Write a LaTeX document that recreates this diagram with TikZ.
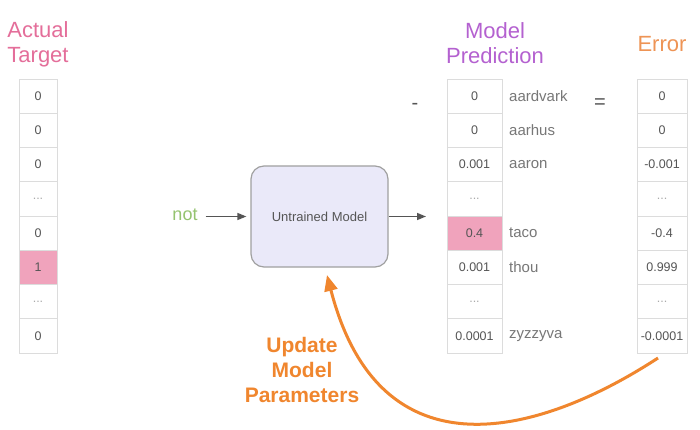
\documentclass[tikz,border=0pt]{standalone}
\usepackage{fontspec}
\setmainfont{Liberation Sans}
\usetikzlibrary{arrows.meta}
\definecolor{cellgray}{HTML}{DCDCDC}
\definecolor{celltext}{HTML}{555555}
\definecolor{dotgray}{HTML}{AAAAAA}
\definecolor{wordgray}{HTML}{777777}
\definecolor{pinktitle}{HTML}{E46E9A}
\definecolor{pinkfill}{HTML}{F0A3BC}
\definecolor{purpletitle}{HTML}{B461D0}
\definecolor{orangetitle}{HTML}{EE9455}
\definecolor{orangeline}{HTML}{F0862E}
\definecolor{greentext}{HTML}{95C36F}
\definecolor{boxfill}{HTML}{EAE9F9}
\definecolor{boxdraw}{HTML}{A0A0A0}
\definecolor{arrowgray}{HTML}{555555}
\newcommand{\celldots}{\textcolor{dotgray}{...}}
\begin{document}
\begin{tikzpicture}[x=1pt,y=-1pt,
  cell/.style={draw=cellgray, line width=0.8pt, minimum height=34.25pt, inner sep=0pt,
    font=\fontsize{12.5}{14}\selectfont, text=celltext},
  word/.style={anchor=west, inner sep=0pt, text=wordgray, font=\fontsize{15}{17}\selectfont},
  title/.style={align=center, anchor=base, font=\fontsize{22}{25}\selectfont},
  garrow/.style={draw=arrowgray, line width=1.4pt, -{Triangle[length=9pt,width=7pt]}},
  sign/.style={text=celltext, font=\fontsize{20}{24}\selectfont}]
\useasboundingbox[fill=white] (0,0) rectangle (700,430);

% titles (anchor = baseline of last line)
\node[title, text=pinktitle] (tA) at (38,63) {Actual\\Target};
\node[title, text=purpletitle] (tP) at (495,64) {Model\\Prediction};
\node[title, text=orangetitle] (tE) at (662,52) {Error};

% columns
\foreach \v/\f [count=\i] in {0/white,0/white,0/white,\celldots/white,0/white,1/pinkfill,\celldots/white,0/white}
  \node[cell, fill=\f, minimum width=38pt] (a\i) at (38,{79+34.25*(\i-0.5)}) {\v};
\foreach \v/\f [count=\i] in {0/white,0/white,0.001/white,\celldots/white,0.4/pinkfill,0.001/white,\celldots/white,0.0001/white}
  \node[cell, fill=\f, minimum width=55pt] (p\i) at (474.5,{79+34.25*(\i-0.5)}) {\v};
\foreach \v [count=\i] in {0,0,-0.001,\celldots,-0.4,0.999,\celldots,-0.0001}
  \node[cell, fill=white, minimum width=50pt] (e\i) at (662,{79+34.25*(\i-0.5)}) {\v};

% words
\node[word] (w1) at (509,96) {aardvark};
\node[word] (w2) at (509,130.4) {aarhus};
\node[word] (w3) at (509,164.6) {aaron};
\node[word] (w5) at (509,233.1) {taco};
\node[word] (w6) at (509,267.4) {thou};
\node[word] (w8) at (509,335.9) {zyzzyva};

% signs
\node[sign] (minus) at (415,106) {-};
\node[sign] (equals) at (600,104) {=};

% model
\node[draw=boxdraw, fill=boxfill, line width=1.2pt, rounded corners=13pt,
  minimum width=137pt, minimum height=101pt, text=celltext,
  font=\fontsize{13}{15}\selectfont] (model) at (319.5,216.5) {Untrained Model};
\node[text=greentext, font=\fontsize{18}{20}\selectfont, inner sep=0pt] (not) at (185,215) {not};
\coordinate (outend) at (426,216.5);
\draw[garrow, shorten <=8pt, shorten >=4pt] (not.east |- model.west) -- (model.west);
\draw[garrow] (model.east) -- (outend);

% update arrow
\coordinate (cstart) at (658,358);
\coordinate (ctip) at (327,275);
\draw[draw=orangeline, line width=3pt, -{Triangle[length=16pt,width=13pt]}]
  (cstart) .. controls (540,435) and (380,480) .. (ctip);
\node[title, text=orangeline, font=\bfseries\fontsize{21}{25}\selectfont] (upd) at (302,402) {Update\\Model\\Parameters};
\end{tikzpicture}
\end{document}
